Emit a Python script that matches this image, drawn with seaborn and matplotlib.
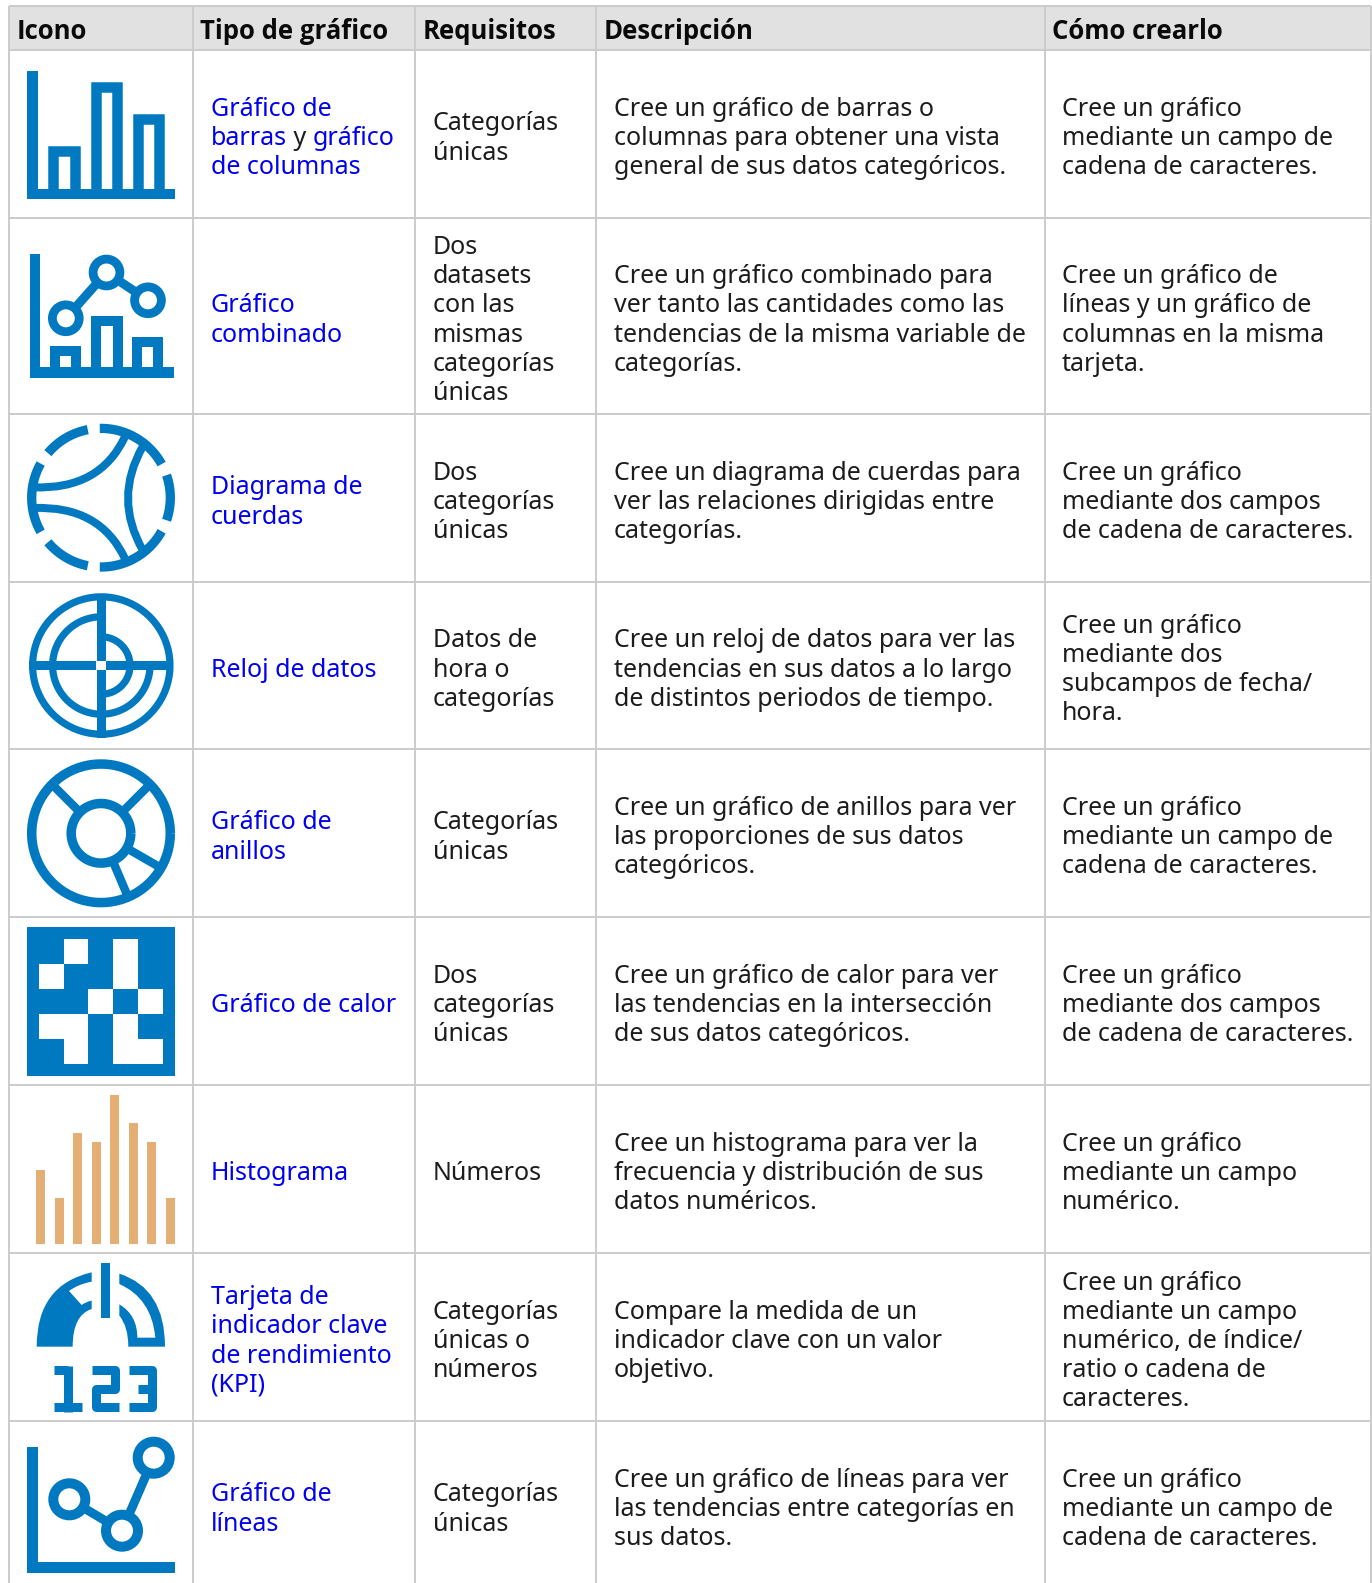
import matplotlib
matplotlib.use("Agg")
import matplotlib.pyplot as plt
from matplotlib.patches import Rectangle, Circle, PathPatch
from matplotlib.path import Path
from matplotlib.colors import ListedColormap
import numpy as np
import seaborn as sns

sns.set_theme(style="white")
plt.rcParams['font.family'] = ['Noto Sans', 'DejaVu Sans']

W, H = 1372, 1583
BLUE = '#0079C1'
ORANGE = '#E3AF74'
LINK = '#0000EE'
INK = '#1C1C1C'
GRID = '#CCCCCC'
HEAD = '#E1E1E1'
FS = 18.0
PITCH = 29.2

headers = ['Icono', 'Tipo de gráfico', 'Requisitos', 'Descripción', 'Cómo crearlo']
col_edges = [8.8, 193, 415, 596, 1044.5, 1371]
row_edges = [6, 50, 218, 414, 582, 749, 917, 1085, 1253, 1421, 1590]
header_x = [16.5, 200.5, 423, 604, 1052]
body_x = [211, 433, 614, 1062]

tipo = [
    [[('Gráfico de', LINK)], [('barras', LINK), (' y ', INK), ('gráfico', LINK)], [('de columnas', LINK)]],
    [[('Gráfico', LINK)], [('combinado', LINK)]],
    [[('Diagrama de', LINK)], [('cuerdas', LINK)]],
    [[('Reloj de datos', LINK)]],
    [[('Gráfico de', LINK)], [('anillos', LINK)]],
    [[('Gráfico de calor', LINK)]],
    [[('Histograma', LINK)]],
    [[('Tarjeta de', LINK)], [('indicador clave', LINK)], [('de rendimiento', LINK)], [('(KPI)', LINK)]],
    [[('Gráfico de', LINK)], [('líneas', LINK)]],
]
requisitos = [
    ['Categorías', 'únicas'],
    ['Dos', 'datasets', 'con las', 'mismas', 'categorías', 'únicas'],
    ['Dos', 'categorías', 'únicas'],
    ['Datos de', 'hora o', 'categorías'],
    ['Categorías', 'únicas'],
    ['Dos', 'categorías', 'únicas'],
    ['Números'],
    ['Categorías', 'únicas o', 'números'],
    ['Categorías', 'únicas'],
]
descripcion = [
    ['Cree un gráfico de barras o', 'columnas para obtener una vista', 'general de sus datos categóricos.'],
    ['Cree un gráfico combinado para', 'ver tanto las cantidades como las', 'tendencias de la misma variable de', 'categorías.'],
    ['Cree un diagrama de cuerdas para', 'ver las relaciones dirigidas entre', 'categorías.'],
    ['Cree un reloj de datos para ver las', 'tendencias en sus datos a lo largo', 'de distintos periodos de tiempo.'],
    ['Cree un gráfico de anillos para ver', 'las proporciones de sus datos', 'categóricos.'],
    ['Cree un gráfico de calor para ver', 'las tendencias en la intersección', 'de sus datos categóricos.'],
    ['Cree un histograma para ver la', 'frecuencia y distribución de sus', 'datos numéricos.'],
    ['Compare la medida de un', 'indicador clave con un valor', 'objetivo.'],
    ['Cree un gráfico de líneas para ver', 'las tendencias entre categorías en', 'sus datos.'],
]
como = [
    ['Cree un gráfico', 'mediante un campo de', 'cadena de caracteres.'],
    ['Cree un gráfico de', 'líneas y un gráfico de', 'columnas en la misma', 'tarjeta.'],
    ['Cree un gráfico', 'mediante dos campos', 'de cadena de caracteres.'],
    ['Cree un gráfico', 'mediante dos', 'subcampos de fecha/', 'hora.'],
    ['Cree un gráfico', 'mediante un campo de', 'cadena de caracteres.'],
    ['Cree un gráfico', 'mediante dos campos', 'de cadena de caracteres.'],
    ['Cree un gráfico', 'mediante un campo', 'numérico.'],
    ['Cree un gráfico', 'mediante un campo', 'numérico, de índice/', 'ratio o cadena de', 'caracteres.'],
    ['Cree un gráfico', 'mediante un campo de', 'cadena de caracteres.'],
]
# icon data
hist_heights = [74, 46, 111, 102, 149, 121, 102, 46]
heat_white = [[0, 1, 0, 1, 0],
              [1, 0, 0, 1, 0],
              [0, 0, 1, 0, 1],
              [1, 1, 0, 1, 0],
              [0, 1, 0, 1, 1]]

fig = plt.figure(figsize=(W / 100, H / 100), dpi=100, facecolor='white')
ax = fig.add_axes([0, 0, 1, 1])
ax.set_xlim(0, W)
ax.set_ylim(H, 0)
ax.axis('off')


def lw(px):
    return px * 0.72


# ---- table grid
ax.add_patch(Rectangle((col_edges[0], row_edges[0]), col_edges[-1] - col_edges[0],
                       row_edges[1] - row_edges[0], fc=HEAD, ec='none', zorder=0))
for x in col_edges:
    ax.plot([x, x], [row_edges[0], H + 5], color=GRID, lw=lw(2), solid_capstyle='butt', zorder=1)
for y in row_edges[:-1]:
    ax.plot([col_edges[0], col_edges[-1]], [y, y], color=GRID, lw=lw(2), solid_capstyle='butt', zorder=1)

# ---- text
renderer = fig.canvas.get_renderer()


def put_lines(x, cy, lines):
    n = len(lines)
    for i, ln in enumerate(lines):
        base = cy + (i - (n - 1) / 2) * PITCH + 9
        if isinstance(ln, str):
            ln = [(ln, INK)]
        cx = x
        for piece, col in ln:
            ax.text(cx, base, piece, color=col, fontsize=FS, va='baseline', ha='left', zorder=3)
            ext = ax.text(0, 0, piece.replace(' ', '\u00a0'), fontsize=FS)
            cx += ext.get_window_extent(renderer).width
            ext.remove()


for x, h in zip(header_x, headers):
    ax.text(x, 39, h, fontsize=18.5, fontweight='bold', family=['Open Sans', 'DejaVu Sans'],
            color='#0A0A0A', va='baseline', ha='left', zorder=3)

for r in range(9):
    cy = (row_edges[r + 1] + row_edges[r + 2]) / 2 + 2
    if r == 8:
        cy = 1507
    put_lines(body_x[0], cy, tipo[r])
    put_lines(body_x[1], cy, requisitos[r])
    put_lines(body_x[2], cy, descripcion[r])
    put_lines(body_x[3], cy, como[r])


# ---- icon helpers (pixel coordinates)
def seg(pts, w, cap='butt', join='miter', color=BLUE):
    xs, ys = zip(*pts)
    ax.plot(xs, ys, color=color, lw=lw(w), solid_capstyle=cap, solid_joinstyle=join, zorder=2)


def rect(x0, y0, x1, y1, color=BLUE):
    ax.add_patch(Rectangle((x0, y0), x1 - x0, y1 - y0, fc=color, ec='none', zorder=2))


def ring(cx, cy, r, w):
    ax.add_patch(Circle((cx, cy), r, fc='white', ec=BLUE, lw=lw(w), zorder=2))


def arc(cx, cy, r, w, a0, a1):
    # angles counter-clockwise on screen, degrees
    t = np.radians(np.linspace(a0, a1, 80))
    ax.plot(cx + r * np.cos(t), cy - r * np.sin(t), color=BLUE, lw=lw(w), solid_capstyle='butt', zorder=2)


def quad(p0, c, p1, w, fx, fy):
    v = [(fx(p[0]), fy(p[1])) for p in (p0, c, p1)]
    ax.add_patch(PathPatch(Path(v, [Path.MOVETO, Path.CURVE3, Path.CURVE3]), fc='none', ec=BLUE,
                           lw=lw(w), capstyle='butt', zorder=2))


def outline_bar(x0, x1, top, base, w):
    seg([(x0 + w / 2, base), (x0 + w / 2, top + w / 2), (x1 - w / 2, top + w / 2), (x1 - w / 2, base)], w)


# 1. bars
rect(27, 71, 37.5, 199)
rect(27, 188.5, 175, 199)
outline_bar(48, 80, 146, 190, 10.5)
outline_bar(90.5, 122, 81.5, 190, 10.5)
outline_bar(132.5, 164.5, 113.5, 190, 10.5)

# 2. combo
rect(29.5, 254, 40, 378)
rect(29.5, 367, 174, 378)
outline_bar(50, 81, 346, 368, 10)
outline_bar(91, 122.5, 316, 368, 10)
outline_bar(132, 163, 336.5, 368, 10)
combo_pts = [(65.8, 318.3), (106.5, 272.5), (148, 300.3)]
seg(combo_pts, 9)
for p in combo_pts:
    ring(p[0], p[1], 13.4, 8.8)

# 3. chord
ccx, ccy = 101, 497.7
for a0, a1 in [(29, 91), (101, 140), (150.5, 209.5), (220, 259), (269, 331), (-19, 19)]:
    arc(ccx, ccy, 69.3, 9.3, a0, a1)
fx = lambda z: z / 3
fy = lambda z: 410 + z / 3
quad((100, 232), (300, 240), (375, 80), 8, fx, fy)
quad((100, 294), (300, 286), (375, 446), 8, fx, fy)
quad((428, 110), (340, 265), (428, 420), 8, fx, fy)

# 4. clock
kx, ky = 101.3, 665.5
arc(kx, ky, 68.7, 7.2, 0, 360)
arc(kx, ky, 48.7, 7.2, 90, 360)
arc(kx, ky, 28.7, 7.2, -90, 90)
rect(kx - 4.7, ky - 72, kx + 4.7, ky + 72)
rect(kx - 72, ky - 4.7, kx + 72, ky + 4.7)
rect(kx - 5, ky - 4.7, kx + 5, ky + 4.7, 'white')

# 5. donut
dx, dy = 101, 833.3
arc(dx, dy, 69.3, 9.5, 0, 360)
arc(dx, dy, 29.8, 9.5, 0, 360)
for a in (135, 45, -30, -67):
    t = np.radians(a)
    seg([(dx + 30 * np.cos(t), dy - 30 * np.sin(t)), (dx + 69 * np.cos(t), dy - 69 * np.sin(t))], 8.5)

# 6. heat map
rect(27, 926.7, 175, 1075.7)


def inset(x0, y0, x1, y1):
    a = fig.add_axes([x0 / W, 1 - y1 / H, (x1 - x0) / W, (y1 - y0) / H])
    a.patch.set_alpha(0)
    return a


hax = inset(39, 939, 162.7, 1063.7)
sns.heatmap(np.array(heat_white), ax=hax, cmap=ListedColormap([BLUE, 'white']), cbar=False,
            xticklabels=False, yticklabels=False, linewidths=0, vmin=0, vmax=1)

# 7. histogram
bax = inset(31.4, 1095, 179.6, 1243.7)
sns.barplot(x=list(range(8)), y=hist_heights, ax=bax, color=ORANGE, width=0.5, saturation=1, linewidth=0)
bax.set_xlim(-0.5, 7.5)
bax.set_ylim(0, 149)
bax.axis('off')

# 8. KPI gauge
fx = lambda z: z / 3
fy = lambda z: 1085 + z / 3


def poly(cmds):
    verts, codes = [], []
    for c in cmds:
        if len(c) == 1:
            codes.append(Path.LINETO if verts else Path.MOVETO)
            verts.append(c[0])
        else:
            verts += [c[0], c[1]]
            codes += [Path.CURVE3, Path.CURVE3]
    verts.append(verts[0])
    codes.append(Path.CLOSEPOLY)
    v = [(fx(a), fy(b)) for a, b in verts]
    ax.add_patch(PathPatch(Path(v, codes), fc=BLUE, ec='none', zorder=2))


poly([[(110, 785)], [(110, 600), (275, 562)], [(275, 590)], [(235, 597), (207, 618)], [(245, 660)],
      [(258, 650), (275, 647)], [(275, 672)], [(218, 690), (218, 785)]])
poly([[(358, 566)], [(495, 610), (495, 785)], [(385, 785)], [(385, 725), (358, 692)], [(358, 658)],
      [(412, 690), (412, 758)], [(466, 758)], [(455, 640), (358, 597)]])
rect(fx(302), fy(534), fx(330), fy(700))
d = 9


def zseg(pts, cap='butt', join='round'):
    seg([(fx(a), fy(b)) for a, b in pts], d, cap, join)


zseg([(163, 855), (204, 855)])
zseg([(204, 842), (204, 980)])
zseg([(163, 967), (247, 967)])
zseg([(275, 855), (344, 855), (344, 911), (289, 911), (289, 967), (358, 967)])
zseg([(387, 855), (456, 855), (456, 967), (387, 967)])
zseg([(415, 911), (456, 911)])

# 9. line icon
rect(27, 1447.3, 37.7, 1572.7)
rect(27, 1562.3, 175, 1572.7)
line_pts = [(69.3, 1499.3), (122, 1530.7), (153.7, 1457.7)]
seg(line_pts, 9)
for p in line_pts:
    ring(p[0], p[1], 16, 10)

fig.savefig('out.png', dpi=100, facecolor='white')
